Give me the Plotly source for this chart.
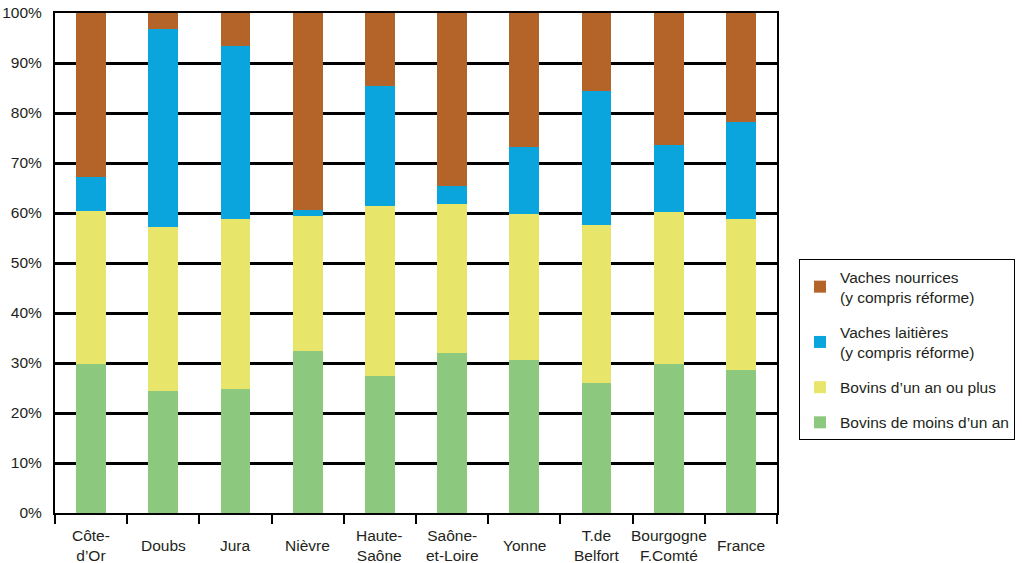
import plotly.graph_objects as go

categories = ["Côte-<br>d’Or", "Doubs", "Jura", "Nièvre", "Haute-<br>Saône",
              "Saône-<br>et-Loire", "Yonne", "T.de<br>Belfort", "Bourgogne<br>F.Comté", "France"]
cat_ids = ["Côte-d’Or", "Doubs", "Jura", "Nièvre", "Haute-Saône",
           "Saône-et-Loire", "Yonne", "T.de Belfort", "Bourgogne F.Comté", "France"]

bovins_moins_un_an = [29.8, 24.5, 24.9, 32.5, 27.5, 32.1, 30.6, 26.0, 29.8, 28.7]
bovins_un_an_plus = [30.6, 32.8, 33.9, 27.0, 34.0, 29.7, 29.3, 31.6, 30.5, 30.1]
vaches_laitieres = [6.8, 39.6, 34.7, 1.2, 24.0, 3.6, 13.4, 26.8, 13.4, 19.5]
vaches_nourrices = [32.8, 3.1, 6.5, 39.3, 14.5, 34.6, 26.7, 15.6, 26.3, 21.7]

y_ticks = [0, 10, 20, 30, 40, 50, 60, 70, 80, 90, 100]
y_tick_labels = [f"{v}%" for v in y_ticks]

series = [
    ("Bovins de moins d’un an", bovins_moins_un_an, "#8cc87d", 4),
    ("Bovins d’un an ou plus", bovins_un_an_plus, "#e8e66a", 3),
    ("Vaches laitières<br>(y compris réforme)", vaches_laitieres, "#0aa5dc", 2),
    ("Vaches nourrices<br>(y compris réforme)", vaches_nourrices, "#b46428", 1),
]

TXT = "#231f20"
FONT = "Liberation Sans, Arial, sans-serif"
FS = 15.5

fig = go.Figure()
for i, (name, vals, col, rank) in enumerate(series):
    fig.add_trace(go.Bar(
        x=cat_ids, y=vals, name=name, marker=dict(color=col, line=dict(width=0)),
        legendgroup=f"g{i}", legendrank=rank, hoverinfo="skip",
    ))

for cid, lab in zip(cat_ids, categories):
    fig.add_annotation(x=cid, y=0, xref="x", yref="paper", text=lab, showarrow=False,
                       yanchor="middle", xanchor="center", yshift=-32, align="center",
                       font=dict(size=FS, color=TXT, family=FONT))

fig.update_layout(
    width=1022, height=563,
    margin=dict(l=55, r=245, t=13, b=50, autoexpand=False),
    barmode="stack", bargap=0.585,
    plot_bgcolor="white", paper_bgcolor="white",
    font=dict(family=FONT, size=FS, color=TXT),
    showlegend=True,
    legend=dict(
        x=1.0305, y=0.508, xanchor="left", yanchor="top",
        traceorder="grouped", tracegroupgap=12,
        bordercolor="black", borderwidth=1, bgcolor="white",
        font=dict(size=FS, color=TXT, family=FONT),
    ),
    xaxis=dict(
        type="category", showticklabels=False, tickson="boundaries",
        ticks="outside", ticklen=9, tickwidth=2, tickcolor="black",
        showline=True, linecolor="black", linewidth=2, mirror=True,
        showgrid=False, fixedrange=True, automargin=False,
    ),
    yaxis=dict(
        range=[0, 100], tickmode="array", tickvals=y_ticks, ticktext=y_tick_labels,
        showgrid=True, gridcolor="black", gridwidth=2.8,
        showline=True, linecolor="black", linewidth=2, mirror=True,
        zeroline=False, ticks="", ticklabelstandoff=8, automargin=False,
        ticklabeloverflow="allow",
        tickfont=dict(size=FS, color=TXT, family=FONT),
    ),
)

fig.write_html("out.html", config={"displayModeBar": False},
               post_script="document.body.style.margin='0';")
